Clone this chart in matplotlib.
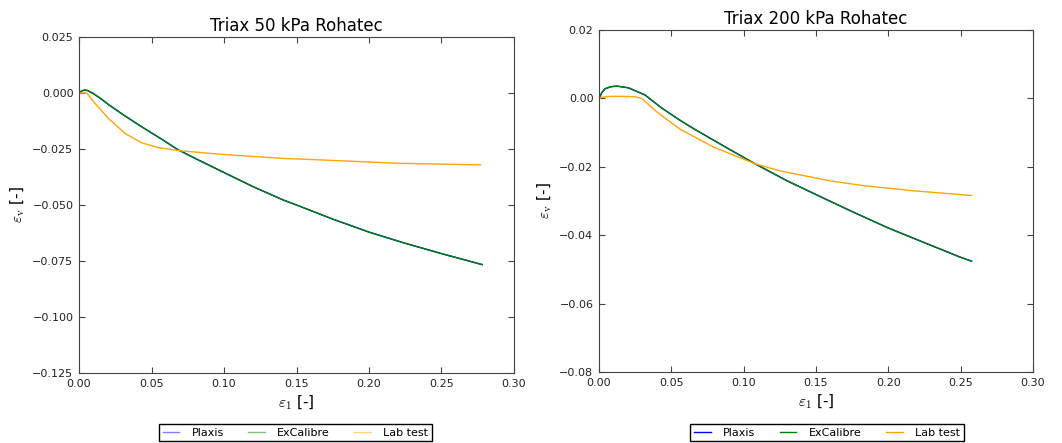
import numpy as np
import matplotlib
matplotlib.use("Agg")
import matplotlib.pyplot as plt
from matplotlib.ticker import FuncFormatter

plt.rcParams['mathtext.fontset'] = 'cm'

# Triax 50 kPa - model (Plaxis / ExCalibre) and lab curves
e1_mod_50 = [0.0, 0.002, 0.004, 0.006, 0.008, 0.01, 0.015, 0.02, 0.03, 0.043, 0.055, 0.0685,
             0.0823, 0.10, 0.12, 0.141, 0.15, 0.175, 0.20, 0.225, 0.25, 0.278]
ev_plaxis_50 = [0.0, 0.0010, 0.0013, 0.0011, 0.0004, -0.0003, -0.0025, -0.0050, -0.0095,
                -0.0150, -0.0198, -0.0254, -0.0299, -0.0355, -0.0418, -0.0478, -0.0500,
                -0.0563, -0.0621, -0.0671, -0.0717, -0.0766]
ev_excal_50 = [0.0, 0.0010, 0.0013, 0.0011, 0.0004, -0.0003, -0.0025, -0.0050, -0.0095,
               -0.0150, -0.0198, -0.0254, -0.0299, -0.0355, -0.0418, -0.0478, -0.0500,
               -0.0563, -0.0621, -0.0671, -0.0717, -0.0766]
e1_lab_50 = [0.0, 0.0053, 0.011, 0.0202, 0.0317, 0.0432, 0.0547, 0.0685, 0.0892, 0.105,
             0.141, 0.175, 0.221, 0.277]
ev_lab_50 = [0.0, 0.0, -0.0046, -0.0113, -0.0180, -0.0222, -0.0244, -0.0257, -0.0269,
             -0.0277, -0.0292, -0.0301, -0.0314, -0.0321]

# Triax 200 kPa
e1_mod_200 = [0.0, 0.002, 0.0041, 0.008, 0.0122, 0.0203, 0.0318, 0.0433, 0.056, 0.0664,
              0.0894, 0.1078, 0.13, 0.1574, 0.175, 0.20, 0.225, 0.249, 0.2575]
ev_plaxis_200 = [0.0, 0.0017, 0.0028, 0.0034, 0.0036, 0.0031, 0.0010, -0.0028, -0.0064,
                 -0.0091, -0.0147, -0.0191, -0.0241, -0.0296, -0.0331, -0.0379, -0.0422,
                 -0.0463, -0.0476]
ev_excal_200 = [0.0, 0.0017, 0.0028, 0.0034, 0.0036, 0.0031, 0.0010, -0.0028, -0.0064,
                -0.0091, -0.0147, -0.0191, -0.0241, -0.0296, -0.0331, -0.0379, -0.0422,
                -0.0463, -0.0476]
e1_lab_200 = [0.0, 0.003, 0.008, 0.015, 0.0249, 0.0295, 0.0387, 0.048, 0.056, 0.079,
              0.1078, 0.1251, 0.1597, 0.1825, 0.217, 0.2575]
ev_lab_200 = [0.0, 0.0004, 0.0006, 0.0006, 0.0005, 0.0, -0.0035, -0.0065, -0.0090,
              -0.0142, -0.0191, -0.0212, -0.0241, -0.0255, -0.0270, -0.0284]

W, H = 1062, 443
fig = plt.figure(figsize=(W / 100, H / 100), dpi=100)


def tick_fmt(nd):
    def f(v, pos):
        s = "%.*f" % (nd, v)
        if float(s) == 0:
            s = s.lstrip("-")
        return s.replace("-", "\u2212")
    return FuncFormatter(f)


panels = [
    dict(rect=[79, 37, 514, 373], title="Triax 50 kPa Rohatec",
         e1_mod=e1_mod_50, plx=ev_plaxis_50, exc=ev_excal_50,
         e1_lab=e1_lab_50, lab=ev_lab_50,
         ylim=(-0.125, 0.025), yticks=np.arange(-0.125, 0.0251, 0.025), ynd=3,
         leg_x=295.5, leg_alpha=0.5),
    dict(rect=[599, 30, 1033, 372], title="Triax 200 kPa Rohatec",
         e1_mod=e1_mod_200, plx=ev_plaxis_200, exc=ev_excal_200,
         e1_lab=e1_lab_200, lab=ev_lab_200,
         ylim=(-0.08, 0.02), yticks=np.arange(-0.08, 0.0201, 0.02), ynd=2,
         leg_x=827, leg_alpha=1.0),
]

for p in panels:
    x0, y0, x1, y1 = p["rect"]
    ax = fig.add_axes([x0 / W, 1 - y1 / H, (x1 - x0) / W, (y1 - y0) / H])
    ax.plot(p["e1_mod"], p["plx"], color="b", lw=1.0, label="Plaxis")
    ax.plot(p["e1_mod"], p["exc"], color="g", lw=1.0, label="ExCalibre")
    ax.plot(p["e1_lab"], p["lab"], color="orange", lw=1.0, label="Lab test")
    ax.set_xlim(0, 0.30)
    ax.set_ylim(*p["ylim"])
    ax.set_xticks(np.arange(0, 0.301, 0.05))
    ax.set_yticks(p["yticks"])
    ax.xaxis.set_major_formatter(tick_fmt(2))
    ax.yaxis.set_major_formatter(tick_fmt(p["ynd"]))
    ax.tick_params(direction="in", top=True, right=True, labelsize=8, length=4,
                   color="#444444", labelcolor="#222222", pad=4)
    for s in ax.spines.values():
        s.set_color("#444444")
    ax.set_title(p["title"], fontsize=12, pad=4)
    ax.set_xlabel(r"$\varepsilon_1$ [-]", fontsize=11)
    ax.set_ylabel(r"$\varepsilon_\mathrm{v}$ [-]", fontsize=11)
    leg = ax.legend(loc="center", bbox_to_anchor=(p["leg_x"] / W, 1 - 432.5 / H),
                    bbox_transform=fig.transFigure, ncol=3, fontsize=8,
                    fancybox=False, framealpha=1, edgecolor="black",
                    handlelength=1.5, handletextpad=1.1, columnspacing=2.2,
                    borderpad=0.35)
    leg.get_frame().set_linewidth(1.0)
    for ln in leg.get_lines():
        ln.set_alpha(p["leg_alpha"])

fig.savefig("out.png", dpi=100, facecolor="white")
